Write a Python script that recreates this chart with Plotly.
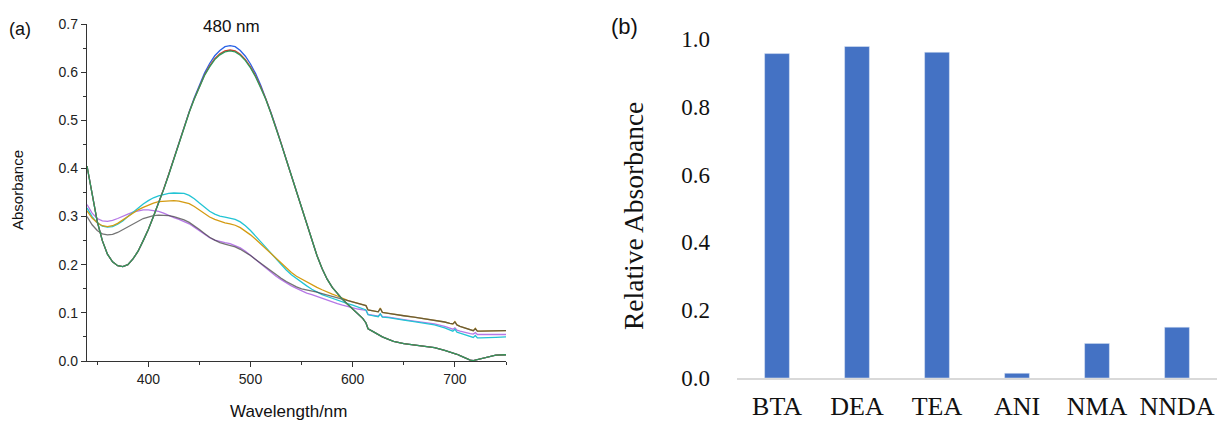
import plotly.graph_objects as go

# ---------------- data: panel (a) ----------------
wavelength = [340, 345, 350, 355, 360, 365, 370, 375, 380, 385,
              390, 395, 400, 405, 410, 415, 420, 425, 430, 435,
              440, 445, 450, 455, 460, 465, 470, 475, 480, 485,
              490, 495, 500, 505, 510, 515, 520, 525, 530, 535,
              540, 545, 550, 555, 560, 565, 570, 575, 580, 585,
              590, 595, 600, 605, 610,
              613, 615, 620, 625, 627, 629, 635, 640, 650, 660,
              670, 680, 690, 695, 698, 700, 702, 705, 710, 715,
              718, 720, 722, 725, 730, 740, 750]

abs_blue = [0.405, 0.345, 0.290, 0.250, 0.222, 0.206, 0.198, 0.196, 0.200, 0.212,
            0.228, 0.250, 0.273, 0.300, 0.327, 0.357, 0.388, 0.421, 0.454, 0.487,
            0.518, 0.547, 0.574, 0.598, 0.618, 0.634, 0.645, 0.653, 0.655, 0.653,
            0.645, 0.633, 0.617, 0.597, 0.573, 0.546, 0.516, 0.485, 0.452, 0.418,
            0.384, 0.350, 0.316, 0.283, 0.250, 0.219, 0.192, 0.170, 0.153, 0.140,
            0.128, 0.118, 0.108, 0.098, 0.088,
            0.079, 0.067, 0.061, 0.055, 0.054, 0.050, 0.045, 0.041, 0.036, 0.033,
            0.031, 0.028, 0.022, 0.019, 0.017, 0.016, 0.014, 0.011, 0.006, 0.002,
            0.001, 0.002, 0.003, 0.005, 0.008, 0.012, 0.013]

abs_red = [0.405, 0.345, 0.290, 0.250, 0.222, 0.206, 0.198, 0.196, 0.200, 0.212,
           0.228, 0.250, 0.273, 0.300, 0.327, 0.357, 0.388, 0.421, 0.454, 0.487,
           0.517, 0.545, 0.571, 0.594, 0.613, 0.628, 0.638, 0.644, 0.646, 0.644,
           0.637, 0.626, 0.611, 0.592, 0.569, 0.544, 0.515, 0.485, 0.452, 0.418,
           0.384, 0.350, 0.316, 0.283, 0.250, 0.219, 0.192, 0.170, 0.153, 0.140,
           0.128, 0.118, 0.108, 0.098, 0.088,
           0.079, 0.067, 0.061, 0.055, 0.054, 0.050, 0.045, 0.041, 0.036, 0.033,
           0.031, 0.028, 0.022, 0.019, 0.017, 0.016, 0.014, 0.011, 0.006, 0.002,
           0.001, 0.002, 0.003, 0.005, 0.008, 0.012, 0.013]

abs_green = [0.405, 0.345, 0.290, 0.250, 0.222, 0.206, 0.198, 0.196, 0.200, 0.212,
             0.228, 0.250, 0.273, 0.300, 0.327, 0.356, 0.387, 0.420, 0.453, 0.486,
             0.516, 0.544, 0.570, 0.593, 0.611, 0.626, 0.636, 0.642, 0.644, 0.642,
             0.635, 0.624, 0.609, 0.590, 0.567, 0.543, 0.514, 0.484, 0.451, 0.418,
             0.384, 0.350, 0.316, 0.283, 0.250, 0.219, 0.192, 0.170, 0.153, 0.140,
             0.128, 0.118, 0.108, 0.098, 0.088,
             0.079, 0.067, 0.061, 0.055, 0.054, 0.050, 0.045, 0.041, 0.036, 0.033,
             0.031, 0.028, 0.022, 0.019, 0.017, 0.016, 0.014, 0.011, 0.006, 0.002,
             0.001, 0.002, 0.003, 0.005, 0.008, 0.012, 0.013]

abs_cyan = [0.318, 0.300, 0.287, 0.280, 0.278, 0.279, 0.284, 0.291, 0.300, 0.309,
            0.318, 0.326, 0.333, 0.339, 0.343, 0.346, 0.348, 0.349, 0.349, 0.348,
            0.344, 0.337, 0.328, 0.319, 0.311, 0.305, 0.301, 0.299, 0.297, 0.294,
            0.289, 0.281, 0.271, 0.260, 0.248, 0.236, 0.224, 0.212, 0.200, 0.189,
            0.179, 0.171, 0.164, 0.156, 0.149, 0.143, 0.138, 0.134, 0.130, 0.126,
            0.123, 0.119, 0.116, 0.112, 0.108,
            0.106, 0.096, 0.094, 0.092, 0.098, 0.091, 0.090, 0.088, 0.085, 0.082,
            0.079, 0.075, 0.069, 0.065, 0.062, 0.066, 0.060, 0.058, 0.055, 0.051,
            0.049, 0.053, 0.048, 0.048, 0.048, 0.049, 0.050]

abs_orange = [0.312, 0.297, 0.287, 0.281, 0.279, 0.281, 0.286, 0.293, 0.300, 0.307,
              0.314, 0.319, 0.324, 0.328, 0.331, 0.332, 0.333, 0.333, 0.332, 0.330,
              0.327, 0.321, 0.314, 0.306, 0.299, 0.294, 0.290, 0.287, 0.285, 0.282,
              0.277, 0.270, 0.262, 0.253, 0.243, 0.233, 0.222, 0.212, 0.202, 0.192,
              0.184, 0.176, 0.170, 0.164, 0.159, 0.153, 0.148, 0.143, 0.139, 0.135,
              0.130, 0.126, 0.123, 0.120, 0.117,
              0.115, 0.106, 0.104, 0.102, 0.110, 0.101, 0.099, 0.097, 0.094, 0.091,
              0.088, 0.085, 0.081, 0.078, 0.077, 0.082, 0.075, 0.072, 0.068, 0.065,
              0.063, 0.068, 0.062, 0.062, 0.062, 0.063, 0.063]

abs_gray = [0.300, 0.283, 0.271, 0.264, 0.262, 0.263, 0.267, 0.273, 0.279, 0.285,
            0.291, 0.296, 0.299, 0.302, 0.303, 0.303, 0.302, 0.300, 0.297, 0.293,
            0.288, 0.281, 0.273, 0.265, 0.257, 0.251, 0.246, 0.243, 0.240, 0.237,
            0.232, 0.226, 0.219, 0.211, 0.203, 0.195, 0.187, 0.179, 0.172, 0.165,
            0.159, 0.154, 0.150, 0.148, 0.146, 0.143, 0.140, 0.137, 0.135, 0.132,
            0.129, 0.126, 0.123, 0.120, 0.117,
            0.115, 0.106, 0.104, 0.102, 0.109, 0.101, 0.099, 0.097, 0.094, 0.091,
            0.088, 0.085, 0.081, 0.078, 0.077, 0.081, 0.075, 0.072, 0.068, 0.065,
            0.063, 0.067, 0.062, 0.062, 0.062, 0.063, 0.063]

abs_purple = [0.325, 0.307, 0.296, 0.291, 0.290, 0.292, 0.296, 0.301, 0.305, 0.309,
              0.312, 0.314, 0.314, 0.313, 0.311, 0.307, 0.302, 0.298, 0.294, 0.290,
              0.285, 0.278, 0.271, 0.263, 0.256, 0.251, 0.248, 0.246, 0.244, 0.240,
              0.235, 0.228, 0.220, 0.211, 0.202, 0.193, 0.184, 0.176, 0.169, 0.162,
              0.156, 0.151, 0.146, 0.141, 0.138, 0.134, 0.130, 0.126, 0.122, 0.119,
              0.116, 0.113, 0.110, 0.108, 0.106,
              0.105, 0.097, 0.095, 0.093, 0.098, 0.092, 0.091, 0.089, 0.086, 0.083,
              0.080, 0.077, 0.072, 0.068, 0.066, 0.069, 0.064, 0.062, 0.059, 0.057,
              0.056, 0.059, 0.055, 0.055, 0.055, 0.055, 0.055]

# ---------------- data: panel (b) ----------------
amines = ["BTA", "DEA", "TEA", "ANI", "NMA", "NNDA"]
relative_abs = [0.957, 0.978, 0.961, 0.014, 0.102, 0.150]

W, H = 1217, 421

def px_x(p):
    return p / W

def px_y(p):
    return 1 - p / H

fig = go.Figure()

spectra = [
    (abs_purple, "#b678e6"),
    (abs_cyan, "#22c4d4"),
    (abs_orange, "#d49b12"),
    (abs_gray, "rgba(70,70,70,0.75)"),
    (abs_blue, "#2a62e6"),
    (abs_red, "#d43a2a"),
    (abs_green, "#2e9a5c"),
]
for ys, col in spectra:
    fig.add_trace(go.Scatter(x=wavelength, y=ys, mode="lines",
                             line=dict(color=col, width=1.3),
                             xaxis="x", yaxis="y", showlegend=False,
                             hoverinfo="skip"))

fig.add_trace(go.Bar(x=amines, y=relative_abs, marker=dict(color="#4472c4"),
                     width=0.31, xaxis="x2", yaxis="y2", showlegend=False))

sans = "Liberation Sans, Arial, sans-serif"
serif = "Liberation Serif, Times New Roman, serif"
axcol = "#333333"


def label(text, x, y, font, size, angle=0):
    return dict(text=text, x=px_x(x), y=px_y(y), xref="paper", yref="paper",
                xanchor="center", yanchor="middle", showarrow=False,
                textangle=angle, font=dict(family=font, size=size, color="#111"))


fig.update_layout(
    width=W, height=H,
    margin=dict(l=0, r=0, t=0, b=0),
    paper_bgcolor="white", plot_bgcolor="white",
    xaxis=dict(domain=[px_x(87), px_x(506)], range=[340, 750],
               tick0=0, dtick=100, showgrid=False, zeroline=False,
               showline=True, linecolor=axcol, linewidth=1.3,
               ticks="outside", ticklen=5, tickwidth=1.3, tickcolor=axcol,
               minor=dict(dtick=50, ticks="outside", ticklen=3,
                          tickwidth=1.2, tickcolor=axcol, showgrid=False),
               tickfont=dict(family=sans, size=14, color="#222"),
               automargin=False, anchor="y"),
    yaxis=dict(domain=[px_y(361), px_y(24)], range=[0, 0.7],
               tick0=0, dtick=0.1, tickformat=".1f", showgrid=False,
               zeroline=False, showline=True, linecolor=axcol, linewidth=1.3,
               ticks="outside", ticklen=5, tickwidth=1.3, tickcolor=axcol,
               minor=dict(dtick=0.05, ticks="outside", ticklen=3,
                          tickwidth=1.2, tickcolor=axcol, showgrid=False),
               tickfont=dict(family=sans, size=14, color="#222"),
               automargin=False, anchor="x"),
    xaxis2=dict(domain=[px_x(737), 1.0], showgrid=False, zeroline=False,
                showline=True, linecolor="#d9d9d9", linewidth=1.5,
                ticks="", tickfont=dict(family=serif, size=26, color="#111"),
                ticklabelstandoff=4,
                automargin=False, anchor="y2"),
    yaxis2=dict(domain=[px_y(378), px_y(39)], range=[0, 1.0],
                tick0=0, dtick=0.2, tickformat=".1f", showgrid=False,
                zeroline=False, showline=False, ticks="",
                tickfont=dict(family=serif, size=23, color="#111"),
                ticklabelstandoff=26,
                automargin=False, anchor="x2"),
    annotations=[
        label("(a)", 20, 29, sans, 18),
        label("480 nm", 232, 27, sans, 17),
        label("Absorbance", 18, 190, sans, 15, -90),
        label("Wavelength/nm", 288, 411, sans, 17),
        label("(b)", 624, 27, sans, 22),
        label("Relative Absorbance", 633, 216, serif, 27.5, -90),
    ],
)

fig.write_html("out.html", config={"displayModeBar": False})
